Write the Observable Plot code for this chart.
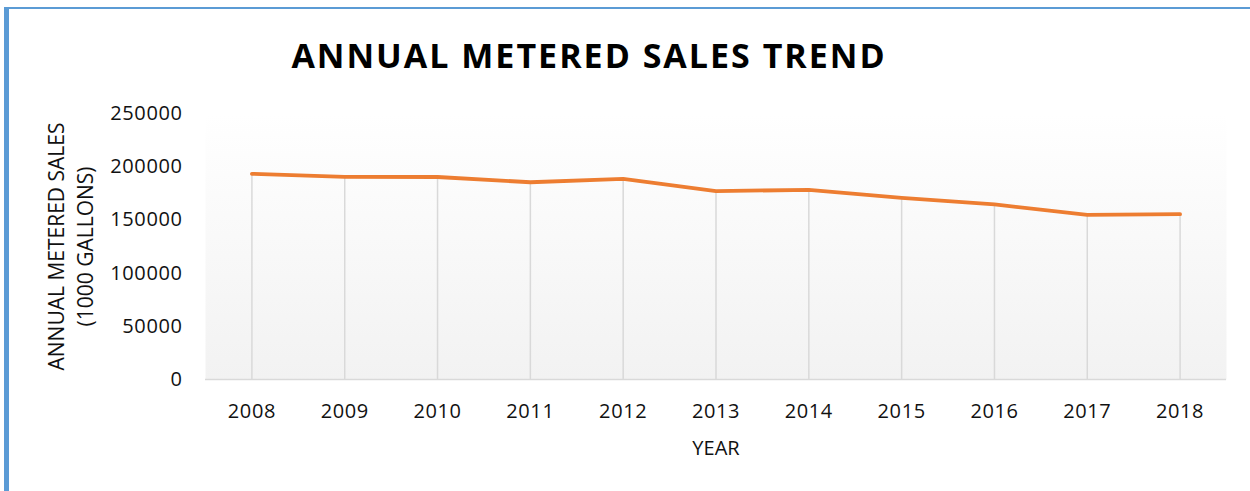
<!DOCTYPE html>
<html>
<head>
<meta charset="utf-8">
<script src="https://cdn.jsdelivr.net/npm/d3@7"></script>
<script src="https://cdn.jsdelivr.net/npm/@observablehq/plot@0.6"></script>
<style>
  html, body { margin: 0; padding: 0; background: #fff; }
  #wrap { position: relative; width: 1250px; height: 491px; overflow: hidden; }
  #bleft { position: absolute; left: 4px; top: 7px; width: 5px; height: 484px; background: #5b9bd5; }
  #btop { position: absolute; left: 4px; top: 7px; width: 1246px; height: 2px; background: #5b9bd5; }
  #chart { position: absolute; left: 0; top: 0; }
</style>
</head>
<body>
<div id="wrap">
  <div id="chart"></div>
  <div id="bleft"></div>
  <div id="btop"></div>
</div>
<script>
const titleText = "ANNUAL METERED SALES TREND";
const xTitle = "YEAR";
const yTitle = "ANNUAL METERED SALES\n(1000 GALLONS)";
const years = ["2008", "2009", "2010", "2011", "2012", "2013", "2014", "2015", "2016", "2017", "2018"];
const sales = [193300, 190500, 190300, 185400, 188600, 177000, 178300, 170800, 164500, 154800, 155400];
const yTicks = [0, 50000, 100000, 150000, 200000, 250000];

const data = years.map((year, i) => ({year, sales: sales[i]}));

const svg = Plot.plot({
  width: 1250,
  height: 491,
  marginLeft: 205,
  marginRight: 24,
  marginTop: 113,
  marginBottom: 112,
  style: {
    fontFamily: "'Open Sans', sans-serif",
    fontSize: "20px",
    color: "#111",
    background: "transparent",
    overflow: "visible"
  },
  x: {type: "point", domain: years, padding: 0.5, round: false, tickSize: 0, tickPadding: 24, label: null},
  y: {domain: [0, 250000], ticks: yTicks, tickFormat: d => String(d), tickSize: 0, tickPadding: 23, label: null},
  marks: [
    Plot.frame({fill: "url(#plotBg)", stroke: "none"}),
    Plot.ruleX(data, {x: "year", y1: 0, y2: "sales", stroke: "#d9d9d9", strokeWidth: 1.5}),
    Plot.ruleY([0], {stroke: "#d9d9d9", strokeWidth: 1.5}),
    Plot.line(data, {x: "year", y: "sales", stroke: "#ed7d31", strokeWidth: 3.8, strokeLinecap: "round", strokeLinejoin: "round"}),
    Plot.text([titleText], {text: d => d, frameAnchor: "top", dx: -127, dy: -56.5, fontSize: 34, fontWeight: "bold", fill: "#000", lineAnchor: "middle", textAnchor: "middle"}),
    Plot.text([xTitle], {text: d => d, frameAnchor: "bottom", dy: 69, fontSize: 20, fill: "#111", lineAnchor: "middle", textAnchor: "middle"}),
    Plot.text([yTitle], {text: d => d, frameAnchor: "left", dx: -136, rotate: -90, fontSize: 21, lineHeight: 1.36, fill: "#111", lineAnchor: "middle", textAnchor: "middle"})
  ]
});

const s = d3.select(svg);
s.insert("defs", ":first-child").html(
  '<linearGradient id="plotBg" x1="0" y1="0" x2="0" y2="1">' +
  '<stop offset="0" stop-color="#ffffff"/>' +
  '<stop offset="1" stop-color="#f2f2f2"/>' +
  '</linearGradient>'
);
s.selectAll("text").filter(function() { return this.textContent === titleText; })
  .attr("letter-spacing", "2px");
s.selectAll("g[aria-label^='x-axis'] text, g[aria-label^='y-axis'] text")
  .attr("letter-spacing", "0.6px");

document.getElementById("chart").appendChild(svg);
</script>
</body>
</html>
